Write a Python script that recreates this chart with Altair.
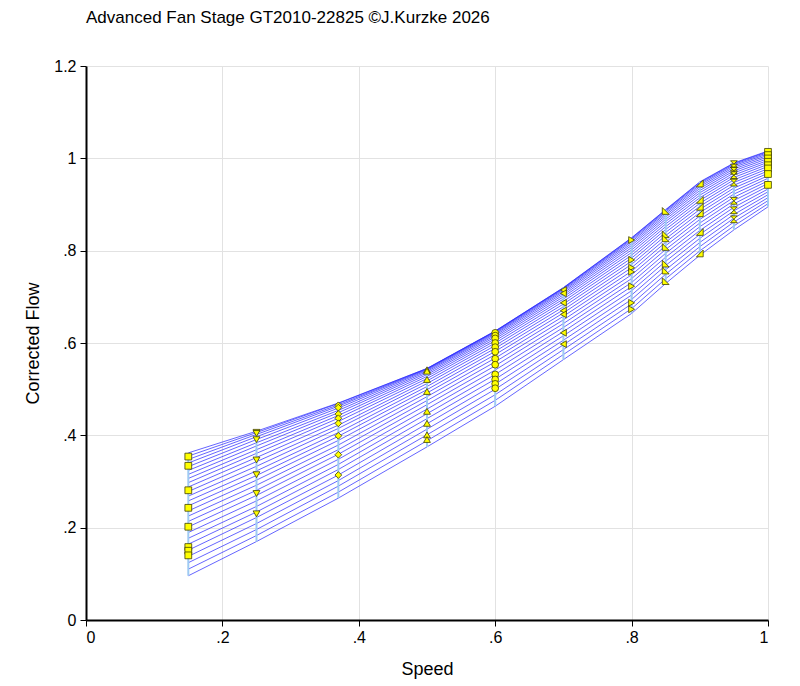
import altair as alt
import pandas as pd

TITLE = "Advanced Fan Stage GT2010-22825 \u00a9J.Kurzke 2026"

speeds = [0.15, 0.25, 0.37, 0.50, 0.60, 0.70, 0.80, 0.85, 0.90, 0.95, 1.00]

# beta lines: flow of each beta line (top to bottom) at each speed
flow_015 = [.362, .355, .3477, .3401, .3322, .3240, .3154, .3066, .2975, .2881, .2783, .2683, .2579,
            .2473, .2363, .2251, .2135, .2017, .1895, .1770, .1642, .1512, .1378, .1241, .1101, .0958]
flow_025 = [.409, .406, .402, .397, .391, .384, .377, .369, .361, .352, .343, .333, .323,
            .313, .303, .292, .281, .270, .258, .246, .234, .222, .209, .196, .183, .170]
flow_037 = [.470, .469, .466, .463, .459, .454, .449, .443, .437, .430, .422, .415, .406,
            .398, .389, .379, .369, .359, .348, .337, .326, .314, .302, .290, .277, .264]
flow_050 = [.545, .5447, .5439, .5426, .5407, .5382, .5352, .5317, .5276, .5230, .5178, .5121, .5058,
            .4990, .4917, .4838, .4754, .4664, .4569, .4468, .4362, .4251, .4134, .4011, .3883, .375]
flow_060 = [.626, .6257, .6250, .6237, .6218, .6195, .6166, .6132, .6093, .6049, .5999, .5944, .5884,
            .5819, .5749, .5673, .5592, .5506, .5415, .5319, .5217, .5110, .4998, .4880, .4758, .463]
flow_070 = [.720, .7195, .7183, .7166, .7142, .7114, .7081, .7042, .6999, .6952, .6900, .6844, .6784,
            .6719, .6651, .6578, .6501, .6421, .6336, .6248, .6156, .6060, .5961, .5857, .5750, .564]
flow_080 = [.828, .8271, .8251, .8225, .8193, .8155, .8113, .8066, .8015, .7960, .7901, .7839, .7773,
            .7704, .7631, .7556, .7477, .7395, .7310, .7223, .7132, .7039, .6943, .6845, .6744, .664]
flow_085 = [.889, .8881, .8862, .8836, .8805, .8768, .8727, .8681, .8632, .8578, .8521, .8460, .8396,
            .8328, .8257, .8183, .8107, .8027, .7944, .7859, .7770, .7680, .7586, .7490, .7391, .729]
flow_090 = [.949, .9477, .9454, .9424, .9388, .9348, .9303, .9254, .9202, .9147, .9088, .9026, .8961,
            .8894, .8824, .8751, .8676, .8598, .8519, .8437, .8352, .8266, .8178, .8087, .7995, .790]
flow_095 = [.990, .9888, .9867, .9840, .9807, .9770, .9730, .9685, .9638, .9587, .9533, .9477, .9418,
            .9356, .9292, .9226, .9158, .9087, .9014, .8939, .8863, .8784, .8703, .8621, .8536, .845]
flow_100 = [1.016, 1.0147, 1.0125, 1.0098, 1.0067, 1.0033, .9996, .9956, .9915, .9871, .9825, .9777, .9727,
            .9676, .9623, .9568, .9512, .9455, .9396, .9336, .9275, .9212, .9148, .9083, .9017, .895]

beta_flows = [flow_015, flow_025, flow_037, flow_050, flow_060, flow_070,
              flow_080, flow_085, flow_090, flow_095, flow_100]

# measured points on each speed line
pts_015 = [0.354, 0.334, 0.281, 0.243, 0.202, 0.158, 0.150, 0.140]
pts_025 = [0.4065, 0.404, 0.3906, 0.3466, 0.3147, 0.274, 0.230]
pts_037 = [0.465, 0.460, 0.446, 0.437, 0.426, 0.399, 0.358, 0.314]
pts_050 = [0.542, 0.539, 0.521, 0.495, 0.452, 0.426, 0.401, 0.391]
pts_060 = [0.622, 0.616, 0.610, 0.600, 0.591, 0.581, 0.566, 0.553, 0.532, 0.521, 0.5115, 0.502]
pts_070 = [0.7147, 0.7075, 0.687, 0.670, 0.662, 0.622, 0.5975]
pts_080 = [0.823, 0.780, 0.763, 0.754, 0.723, 0.687, 0.673]
pts_085 = [0.886, 0.8355, 0.8268, 0.808, 0.772, 0.757, 0.734]
pts_090 = [0.9455, 0.910, 0.895, 0.881, 0.8405, 0.794]
pts_095 = [0.9874, 0.980, 0.973, 0.9635, 0.9475, 0.908, 0.8875, 0.868]
pts_100 = [1.014, 1.007, 0.9997, 0.9925, 0.985, 0.978, 0.966, 0.9425]

points = [pts_015, pts_025, pts_037, pts_050, pts_060, pts_070,
          pts_080, pts_085, pts_090, pts_095, pts_100]

speed_labels = ["0.15", "0.25", "0.37", "0.50", "0.60", "0.70", "0.80", "0.85", "0.90", "0.95", "1.00"]
shapes = ["square", "triangle-down", "diamond", "triangle-up", "circle", "triangle-left",
          "triangle-right", "M-1,-1L-1,1L1,1Z", "M1,-1L1,1L-1,1Z", "M-1,-1L1,-1L-1,1L1,1Z", "square"]

rows = []
for s, flows in zip(speeds, beta_flows):
    for k, f in enumerate(flows):
        rows.append({"speed": s, "beta": k, "flow": f})
lines_df = pd.DataFrame(rows)

prow = []
for s, lab, pts in zip(speeds, speed_labels, points):
    for f in pts:
        prow.append({"speed": s, "lab": lab, "flow": f})
pts_df = pd.DataFrame(prow)

FONT = "Liberation Sans"
lab_expr = ("datum.value == 0 ? '0' : (datum.value < 1 ? '.' + format(datum.value * 10, '.0f') "
            ": format(datum.value, '~g'))")

xenc = alt.X("speed:Q", scale=alt.Scale(domain=[0, 1], nice=False),
             axis=alt.Axis(title="Speed", values=[0, 0.2, 0.4, 0.6, 0.8, 1.0], labelExpr=lab_expr,
                           titlePadding=15, labelPadding=3))
yenc = alt.Y("flow:Q", scale=alt.Scale(domain=[0, 1.2], nice=False),
             axis=alt.Axis(title="Corrected Flow", values=[0, 0.2, 0.4, 0.6, 0.8, 1.0, 1.2],
                           labelExpr=lab_expr, titlePadding=11, labelPadding=4))

beta_lines = alt.Chart(lines_df).mark_line(color="#2a2aff", strokeWidth=1, opacity=0.72).encode(
    x=xenc, y=yenc, detail="beta:N", order="speed:Q")

speed_lines = alt.Chart(lines_df).mark_rule(color="#9fcbf2", strokeWidth=2).encode(
    x="speed:Q", y="min(flow):Q", y2="max(flow):Q")

markers = alt.Chart(pts_df).mark_point(filled=True, fill="#ffff00", stroke="#404000",
                                       strokeWidth=0.8, opacity=1, size=46).encode(
    x="speed:Q", y="flow:Q",
    shape=alt.Shape("lab:N", scale=alt.Scale(domain=speed_labels, range=shapes), legend=None))

chart = alt.layer(beta_lines, speed_lines, markers).properties(
    width=682, height=554,
    autosize=alt.AutoSizeParams(type="none"),
    padding={"left": 78, "top": 58, "right": 24, "bottom": 62},
    title=alt.TitleParams(text=TITLE, anchor="start", frame="group", fontSize=17, font=FONT,
                          fontWeight="normal", color="black", offset=31),
).configure_view(stroke=None).configure_axis(
    labelFont=FONT, labelFontSize=16, labelColor="black",
    titleFont=FONT, titleFontSize=18, titleFontWeight="normal", titleColor="black",
    domainColor="black", domainWidth=2, tickColor="black", tickSize=6,
    gridColor="#e2e2e2", gridWidth=1,
)

chart.save("out.html", embed_options={"renderer": "svg", "actions": False})
